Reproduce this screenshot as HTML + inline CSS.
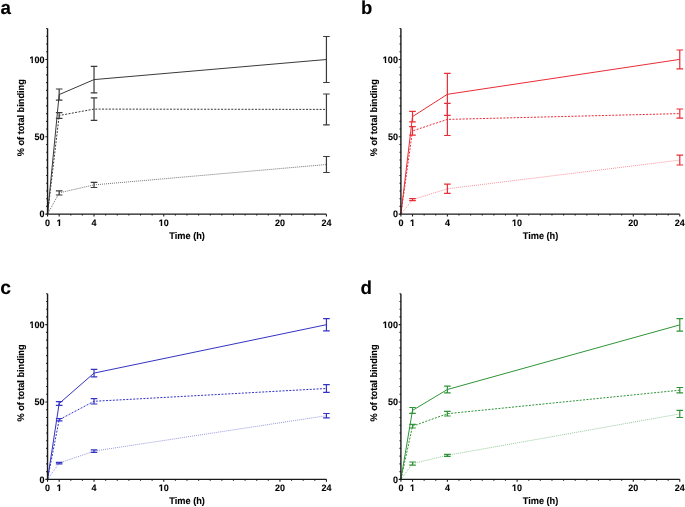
<!DOCTYPE html><html><head><meta charset="utf-8"><style>html,body{margin:0;padding:0;background:#fff;}svg{display:block;}text{font-family:"Liberation Sans", sans-serif;font-weight:bold;fill:#000;stroke:#000;stroke-width:0.1;text-rendering:geometricPrecision;}#w{will-change:transform;width:685px;height:507px;}</style></head><body>
<div id="w">
<svg width="685" height="507" viewBox="0 0 685 507">
<rect width="685" height="507" fill="#fff"/>
<path d="M47.55 214.15 L59.17 94.6 L94.03 79.6 L326.43 59.5" fill="none" stroke="#3a3a3a" stroke-width="1.0"/>
<path d="M59.17 89V100.2M55.87 89H62.47M55.87 100.2H62.47M94.03 66.3V92.9M90.73 66.3H97.33M90.73 92.9H97.33M326.43 36.5V82.5M323.13 36.5H329.73M323.13 82.5H329.73" fill="none" stroke="#3a3a3a" stroke-width="1.2"/>
<path d="M47.55 214.15 L59.17 115.5 L94.03 109.1 L326.43 109.4" fill="none" stroke="#3a3a3a" stroke-width="1.0" stroke-dasharray="2 1.4"/>
<path d="M59.17 112.7V118.3M55.87 112.7H62.47M55.87 118.3H62.47M94.03 97.8V120.4M90.73 97.8H97.33M90.73 120.4H97.33M326.43 94V124.8M323.13 94H329.73M323.13 124.8H329.73" fill="none" stroke="#3a3a3a" stroke-width="1.2"/>
<path d="M47.55 214.15 L59.17 192.9 L94.03 184.9 L326.43 164.5" fill="none" stroke="#3a3a3a" stroke-width="1.0" stroke-dasharray="1 1" stroke-opacity="0.7"/>
<path d="M59.17 190.8V195M55.87 190.8H62.47M55.87 195H62.47M94.03 182.3V187.5M90.73 182.3H97.33M90.73 187.5H97.33M326.43 156.5V172.5M323.13 156.5H329.73M323.13 172.5H329.73" fill="none" stroke="#3a3a3a" stroke-width="1.2"/>
<path d="M47.55 214.85V28.51M46.85 214.15H326.43" fill="none" stroke="#1a1a1a" stroke-width="1.4"/>
<path d="M45.35 214.15H47.55M46.15 206.42H47.55M46.15 198.68H47.55M46.15 190.94H47.55M46.15 183.21H47.55M46.15 175.48H47.55M46.15 167.74H47.55M46.15 160H47.55M46.15 152.27H47.55M46.15 144.54H47.55M45.35 136.8H47.55M46.15 129.06H47.55M46.15 121.33H47.55M46.15 113.6H47.55M46.15 105.86H47.55M46.15 98.13H47.55M46.15 90.39H47.55M46.15 82.66H47.55M46.15 74.92H47.55M46.15 67.19H47.55M45.35 59.45H47.55M46.15 51.72H47.55M46.15 43.98H47.55M46.15 36.25H47.55M46.15 28.51H47.55M47.55 214.15V216.45M59.17 214.15V216.45M70.79 214.15V215.55M82.41 214.15V215.55M94.03 214.15V216.45M105.65 214.15V215.55M117.27 214.15V215.55M128.89 214.15V215.55M140.51 214.15V215.55M152.13 214.15V215.55M163.75 214.15V216.45M175.37 214.15V215.55M186.99 214.15V215.55M198.61 214.15V215.55M210.23 214.15V215.55M221.85 214.15V215.55M233.47 214.15V215.55M245.09 214.15V215.55M256.71 214.15V215.55M268.33 214.15V215.55M279.95 214.15V216.45M291.57 214.15V215.55M303.19 214.15V215.55M314.81 214.15V215.55M326.43 214.15V216.45" fill="none" stroke="#1a1a1a" stroke-width="1.1"/>
<text transform="translate(44.55 217.45) scale(1 1.04)" font-size="9" text-anchor="end">0</text>
<text transform="translate(44.55 140.1) scale(1 1.04)" font-size="9" text-anchor="end">50</text>
<text transform="translate(44.55 62.75) scale(1 1.04)" font-size="9" text-anchor="end">100</text>
<text transform="translate(47.55 226.05) scale(1 1.04)" font-size="9" text-anchor="middle">0</text>
<text transform="translate(59.17 226.05) scale(1 1.04)" font-size="9" text-anchor="middle">1</text>
<text transform="translate(94.03 226.05) scale(1 1.04)" font-size="9" text-anchor="middle">4</text>
<text transform="translate(163.75 226.05) scale(1 1.04)" font-size="9" text-anchor="middle">10</text>
<text transform="translate(279.95 226.05) scale(1 1.04)" font-size="9" text-anchor="middle">20</text>
<text transform="translate(326.43 226.05) scale(1 1.04)" font-size="9" text-anchor="middle">24</text>
<text transform="translate(187.15 239.15) scale(1 1.04)" font-size="9.2" text-anchor="middle">Time (h)</text>
<text x="0.4" y="13.9" font-size="18.8">a</text>
<text transform="translate(23.95 117.75) rotate(-90) scale(1 1.04)" font-size="9.2" text-anchor="middle">% of total binding</text>
<path d="M29.65 61.59H31.51V63.2H29.65ZM32.99 61.59H34.89V63.2H32.99ZM56.78 224.89H58.65V226.5H56.78ZM60.12 224.89H62.02V226.5H60.12ZM158.86 224.89H160.73V226.5H158.86ZM162.2 224.89H164.1V226.5H162.2Z" fill="#fff"/>
<path d="M400.9 214.15 L412.52 116.6 L447.38 94.3 L679.78 59.4" fill="none" stroke="#ea2c36" stroke-width="1.0"/>
<path d="M412.52 111.3V121.9M409.22 111.3H415.82M409.22 121.9H415.82M447.38 73.3V115.3M444.08 73.3H450.68M444.08 115.3H450.68M679.78 50V68.8M676.48 50H683.08M676.48 68.8H683.08" fill="none" stroke="#ea2c36" stroke-width="1.2"/>
<path d="M400.9 214.15 L412.52 130.9 L447.38 119.4 L679.78 113.6" fill="none" stroke="#ea2c36" stroke-width="1.0" stroke-dasharray="2 1.4"/>
<path d="M412.52 126.6V135.2M409.22 126.6H415.82M409.22 135.2H415.82M447.38 103.3V135.5M444.08 103.3H450.68M444.08 135.5H450.68M679.78 109V118.2M676.48 109H683.08M676.48 118.2H683.08" fill="none" stroke="#ea2c36" stroke-width="1.2"/>
<path d="M400.9 214.15 L412.52 199.6 L447.38 188.8 L679.78 160.1" fill="none" stroke="#ea2c36" stroke-width="1.0" stroke-dasharray="1 1" stroke-opacity="0.5"/>
<path d="M412.52 198.6V200.6M409.22 198.6H415.82M409.22 200.6H415.82M447.38 184.2V193.4M444.08 184.2H450.68M444.08 193.4H450.68M679.78 155.2V165M676.48 155.2H683.08M676.48 165H683.08" fill="none" stroke="#ea2c36" stroke-width="1.2"/>
<path d="M400.9 214.85V28.51M400.2 214.15H679.78" fill="none" stroke="#1a1a1a" stroke-width="1.4"/>
<path d="M398.7 214.15H400.9M399.5 206.42H400.9M399.5 198.68H400.9M399.5 190.94H400.9M399.5 183.21H400.9M399.5 175.48H400.9M399.5 167.74H400.9M399.5 160H400.9M399.5 152.27H400.9M399.5 144.54H400.9M398.7 136.8H400.9M399.5 129.06H400.9M399.5 121.33H400.9M399.5 113.6H400.9M399.5 105.86H400.9M399.5 98.13H400.9M399.5 90.39H400.9M399.5 82.66H400.9M399.5 74.92H400.9M399.5 67.19H400.9M398.7 59.45H400.9M399.5 51.72H400.9M399.5 43.98H400.9M399.5 36.25H400.9M399.5 28.51H400.9M400.9 214.15V216.45M412.52 214.15V216.45M424.14 214.15V215.55M435.76 214.15V215.55M447.38 214.15V216.45M459 214.15V215.55M470.62 214.15V215.55M482.24 214.15V215.55M493.86 214.15V215.55M505.48 214.15V215.55M517.1 214.15V216.45M528.72 214.15V215.55M540.34 214.15V215.55M551.96 214.15V215.55M563.58 214.15V215.55M575.2 214.15V215.55M586.82 214.15V215.55M598.44 214.15V215.55M610.06 214.15V215.55M621.68 214.15V215.55M633.3 214.15V216.45M644.92 214.15V215.55M656.54 214.15V215.55M668.16 214.15V215.55M679.78 214.15V216.45" fill="none" stroke="#1a1a1a" stroke-width="1.1"/>
<text transform="translate(397.9 217.45) scale(1 1.04)" font-size="9" text-anchor="end">0</text>
<text transform="translate(397.9 140.1) scale(1 1.04)" font-size="9" text-anchor="end">50</text>
<text transform="translate(397.9 62.75) scale(1 1.04)" font-size="9" text-anchor="end">100</text>
<text transform="translate(400.9 226.05) scale(1 1.04)" font-size="9" text-anchor="middle">0</text>
<text transform="translate(412.52 226.05) scale(1 1.04)" font-size="9" text-anchor="middle">1</text>
<text transform="translate(447.38 226.05) scale(1 1.04)" font-size="9" text-anchor="middle">4</text>
<text transform="translate(517.1 226.05) scale(1 1.04)" font-size="9" text-anchor="middle">10</text>
<text transform="translate(633.3 226.05) scale(1 1.04)" font-size="9" text-anchor="middle">20</text>
<text transform="translate(679.78 226.05) scale(1 1.04)" font-size="9" text-anchor="middle">24</text>
<text transform="translate(540.5 239.15) scale(1 1.04)" font-size="9.2" text-anchor="middle">Time (h)</text>
<text x="361" y="13.9" font-size="18.5">b</text>
<text transform="translate(377.3 117.75) rotate(-90) scale(1 1.04)" font-size="9.2" text-anchor="middle">% of total binding</text>
<path d="M383 61.59H384.86V63.2H383ZM386.34 61.59H388.24V63.2H386.34ZM410.13 224.89H412V226.5H410.13ZM413.47 224.89H415.37V226.5H413.47ZM512.21 224.89H514.08V226.5H512.21ZM515.55 224.89H517.45V226.5H515.55Z" fill="#fff"/>
<path d="M47.55 479.35 L59.17 403.5 L94.03 373.1 L326.43 324.7" fill="none" stroke="#3333c4" stroke-width="1.0"/>
<path d="M59.17 401.7V405.3M55.87 401.7H62.47M55.87 405.3H62.47M94.03 369.3V376.9M90.73 369.3H97.33M90.73 376.9H97.33M326.43 318.6V330.8M323.13 318.6H329.73M323.13 330.8H329.73" fill="none" stroke="#3333c4" stroke-width="1.2"/>
<path d="M47.55 479.35 L59.17 419.7 L94.03 401.3 L326.43 388.5" fill="none" stroke="#3333c4" stroke-width="1.0" stroke-dasharray="2 1.4"/>
<path d="M59.17 418.5V420.9M55.87 418.5H62.47M55.87 420.9H62.47M94.03 398.6V404M90.73 398.6H97.33M90.73 404H97.33M326.43 384.6V392.4M323.13 384.6H329.73M323.13 392.4H329.73" fill="none" stroke="#3333c4" stroke-width="1.2"/>
<path d="M47.55 479.35 L59.17 463.1 L94.03 451.1 L326.43 415.7" fill="none" stroke="#3333c4" stroke-width="1.0" stroke-dasharray="1 1" stroke-opacity="0.5"/>
<path d="M59.17 462.3V463.9M55.87 462.3H62.47M55.87 463.9H62.47M94.03 449.9V452.3M90.73 449.9H97.33M90.73 452.3H97.33M326.43 413.5V417.9M323.13 413.5H329.73M323.13 417.9H329.73" fill="none" stroke="#3333c4" stroke-width="1.2"/>
<path d="M47.55 480.05V293.71M46.85 479.35H326.43" fill="none" stroke="#1a1a1a" stroke-width="1.4"/>
<path d="M45.35 479.35H47.55M46.15 471.62H47.55M46.15 463.88H47.55M46.15 456.15H47.55M46.15 448.41H47.55M46.15 440.68H47.55M46.15 432.94H47.55M46.15 425.21H47.55M46.15 417.47H47.55M46.15 409.74H47.55M45.35 402H47.55M46.15 394.27H47.55M46.15 386.53H47.55M46.15 378.8H47.55M46.15 371.06H47.55M46.15 363.33H47.55M46.15 355.59H47.55M46.15 347.86H47.55M46.15 340.12H47.55M46.15 332.38H47.55M45.35 324.65H47.55M46.15 316.92H47.55M46.15 309.18H47.55M46.15 301.45H47.55M46.15 293.71H47.55M47.55 479.35V481.65M59.17 479.35V481.65M70.79 479.35V480.75M82.41 479.35V480.75M94.03 479.35V481.65M105.65 479.35V480.75M117.27 479.35V480.75M128.89 479.35V480.75M140.51 479.35V480.75M152.13 479.35V480.75M163.75 479.35V481.65M175.37 479.35V480.75M186.99 479.35V480.75M198.61 479.35V480.75M210.23 479.35V480.75M221.85 479.35V480.75M233.47 479.35V480.75M245.09 479.35V480.75M256.71 479.35V480.75M268.33 479.35V480.75M279.95 479.35V481.65M291.57 479.35V480.75M303.19 479.35V480.75M314.81 479.35V480.75M326.43 479.35V481.65" fill="none" stroke="#1a1a1a" stroke-width="1.1"/>
<text transform="translate(44.55 482.65) scale(1 1.04)" font-size="9" text-anchor="end">0</text>
<text transform="translate(44.55 405.3) scale(1 1.04)" font-size="9" text-anchor="end">50</text>
<text transform="translate(44.55 327.95) scale(1 1.04)" font-size="9" text-anchor="end">100</text>
<text transform="translate(47.55 491.25) scale(1 1.04)" font-size="9" text-anchor="middle">0</text>
<text transform="translate(59.17 491.25) scale(1 1.04)" font-size="9" text-anchor="middle">1</text>
<text transform="translate(94.03 491.25) scale(1 1.04)" font-size="9" text-anchor="middle">4</text>
<text transform="translate(163.75 491.25) scale(1 1.04)" font-size="9" text-anchor="middle">10</text>
<text transform="translate(279.95 491.25) scale(1 1.04)" font-size="9" text-anchor="middle">20</text>
<text transform="translate(326.43 491.25) scale(1 1.04)" font-size="9" text-anchor="middle">24</text>
<text transform="translate(187.15 504.35) scale(1 1.04)" font-size="9.2" text-anchor="middle">Time (h)</text>
<text x="0.3" y="293.9" font-size="19.3">c</text>
<text transform="translate(23.95 382.95) rotate(-90) scale(1 1.04)" font-size="9.2" text-anchor="middle">% of total binding</text>
<path d="M29.65 326.79H31.51V328.4H29.65ZM32.99 326.79H34.89V328.4H32.99ZM56.78 490.09H58.65V491.7H56.78ZM60.12 490.09H62.02V491.7H60.12ZM158.86 490.09H160.73V491.7H158.86ZM162.2 490.09H164.1V491.7H162.2Z" fill="#fff"/>
<path d="M400.9 479.35 L412.52 410.4 L447.38 389.5 L679.78 324.9" fill="none" stroke="#2f9438" stroke-width="1.0"/>
<path d="M412.52 407.5V413.3M409.22 407.5H415.82M409.22 413.3H415.82M447.38 386.2V392.8M444.08 386.2H450.68M444.08 392.8H450.68M679.78 318.6V331.2M676.48 318.6H683.08M676.48 331.2H683.08" fill="none" stroke="#2f9438" stroke-width="1.2"/>
<path d="M400.9 479.35 L412.52 426.2 L447.38 413.7 L679.78 390.2" fill="none" stroke="#2f9438" stroke-width="1.0" stroke-dasharray="2 1.4"/>
<path d="M412.52 424.4V428M409.22 424.4H415.82M409.22 428H415.82M447.38 411.4V416M444.08 411.4H450.68M444.08 416H450.68M679.78 387.5V392.9M676.48 387.5H683.08M676.48 392.9H683.08" fill="none" stroke="#2f9438" stroke-width="1.2"/>
<path d="M400.9 479.35 L412.52 463.6 L447.38 455.3 L679.78 413.9" fill="none" stroke="#2f9438" stroke-width="1.0" stroke-dasharray="1 1" stroke-opacity="0.5"/>
<path d="M412.52 462V465.2M409.22 462H415.82M409.22 465.2H415.82M447.38 454.3V456.3M444.08 454.3H450.68M444.08 456.3H450.68M679.78 410.3V417.5M676.48 410.3H683.08M676.48 417.5H683.08" fill="none" stroke="#2f9438" stroke-width="1.2"/>
<path d="M400.9 480.05V293.71M400.2 479.35H679.78" fill="none" stroke="#1a1a1a" stroke-width="1.4"/>
<path d="M398.7 479.35H400.9M399.5 471.62H400.9M399.5 463.88H400.9M399.5 456.15H400.9M399.5 448.41H400.9M399.5 440.68H400.9M399.5 432.94H400.9M399.5 425.21H400.9M399.5 417.47H400.9M399.5 409.74H400.9M398.7 402H400.9M399.5 394.27H400.9M399.5 386.53H400.9M399.5 378.8H400.9M399.5 371.06H400.9M399.5 363.33H400.9M399.5 355.59H400.9M399.5 347.86H400.9M399.5 340.12H400.9M399.5 332.38H400.9M398.7 324.65H400.9M399.5 316.92H400.9M399.5 309.18H400.9M399.5 301.45H400.9M399.5 293.71H400.9M400.9 479.35V481.65M412.52 479.35V481.65M424.14 479.35V480.75M435.76 479.35V480.75M447.38 479.35V481.65M459 479.35V480.75M470.62 479.35V480.75M482.24 479.35V480.75M493.86 479.35V480.75M505.48 479.35V480.75M517.1 479.35V481.65M528.72 479.35V480.75M540.34 479.35V480.75M551.96 479.35V480.75M563.58 479.35V480.75M575.2 479.35V480.75M586.82 479.35V480.75M598.44 479.35V480.75M610.06 479.35V480.75M621.68 479.35V480.75M633.3 479.35V481.65M644.92 479.35V480.75M656.54 479.35V480.75M668.16 479.35V480.75M679.78 479.35V481.65" fill="none" stroke="#1a1a1a" stroke-width="1.1"/>
<text transform="translate(397.9 482.65) scale(1 1.04)" font-size="9" text-anchor="end">0</text>
<text transform="translate(397.9 405.3) scale(1 1.04)" font-size="9" text-anchor="end">50</text>
<text transform="translate(397.9 327.95) scale(1 1.04)" font-size="9" text-anchor="end">100</text>
<text transform="translate(400.9 491.25) scale(1 1.04)" font-size="9" text-anchor="middle">0</text>
<text transform="translate(412.52 491.25) scale(1 1.04)" font-size="9" text-anchor="middle">1</text>
<text transform="translate(447.38 491.25) scale(1 1.04)" font-size="9" text-anchor="middle">4</text>
<text transform="translate(517.1 491.25) scale(1 1.04)" font-size="9" text-anchor="middle">10</text>
<text transform="translate(633.3 491.25) scale(1 1.04)" font-size="9" text-anchor="middle">20</text>
<text transform="translate(679.78 491.25) scale(1 1.04)" font-size="9" text-anchor="middle">24</text>
<text transform="translate(540.5 504.35) scale(1 1.04)" font-size="9.2" text-anchor="middle">Time (h)</text>
<text x="360.6" y="293.7" font-size="18.8">d</text>
<text transform="translate(377.3 382.95) rotate(-90) scale(1 1.04)" font-size="9.2" text-anchor="middle">% of total binding</text>
<path d="M383 326.79H384.86V328.4H383ZM386.34 326.79H388.24V328.4H386.34ZM410.13 490.09H412V491.7H410.13ZM413.47 490.09H415.37V491.7H413.47ZM512.21 490.09H514.08V491.7H512.21ZM515.55 490.09H517.45V491.7H515.55Z" fill="#fff"/>
</svg></div></body></html>
